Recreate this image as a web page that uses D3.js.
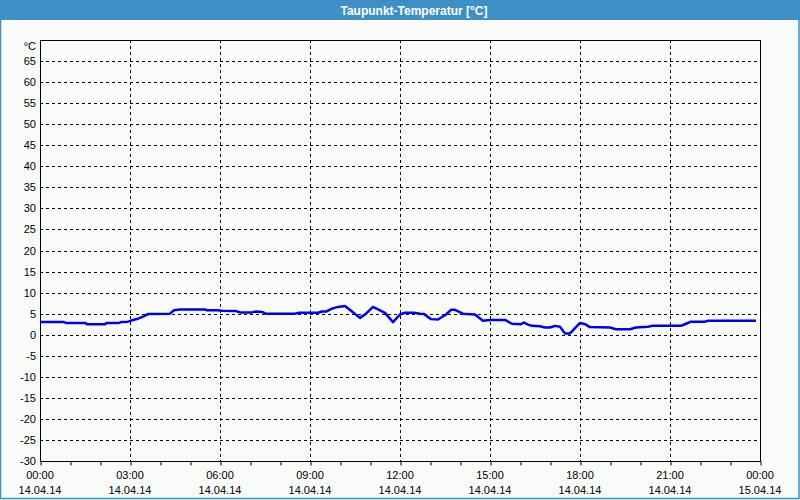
<!DOCTYPE html>
<html><head><meta charset="utf-8">
<script src="https://cdn.jsdelivr.net/npm/d3@7"></script>
<style>
html,body{margin:0;padding:0;background:#f9fbf8;}
svg{display:block;}
text{font-family:"Liberation Sans",Arial,sans-serif;}
</style></head>
<body>
<svg id="c" width="800" height="500"></svg>
<script>
const title = "Taupunkt-Temperatur [°C]";
const unitLabel = "°C";
const times = ["00:00","00:48","00:52","01:30","01:34","02:10","02:14","02:38","02:42","02:56","03:06","03:16","03:26","03:36","04:20","04:28","04:40","05:30","05:34","05:56","06:04","06:32","06:40","07:04","07:12","07:24","07:32","08:30","08:38","09:16","09:24","09:32","09:44","09:56","10:10","10:24","10:40","10:52","11:06","11:20","11:30","11:46","12:00","12:10","12:28","12:40","12:48","13:02","13:16","13:32","13:42","13:50","14:06","14:30","14:46","15:00","15:30","15:44","16:02","16:08","16:16","16:24","16:40","16:50","17:00","17:10","17:20","17:30","17:40","18:00","18:10","18:20","19:00","19:12","19:40","19:52","20:16","20:24","21:22","21:32","21:42","22:10","22:16","23:52"];
const values = [3.0,3.0,2.8,2.8,2.5,2.5,2.8,2.8,3.0,3.1,3.5,3.8,4.3,4.9,5.0,5.8,6.0,6.0,5.8,5.8,5.7,5.6,5.3,5.3,5.5,5.4,5.0,5.0,5.2,5.2,5.5,5.5,6.2,6.6,6.8,5.5,4.0,5.0,6.6,5.8,5.2,3.0,4.8,5.2,5.2,5.0,4.9,3.7,3.6,4.8,5.9,5.9,5.0,4.8,3.3,3.5,3.5,2.6,2.5,2.9,2.4,2.1,2.0,1.7,1.7,2.1,1.9,0.3,0.3,2.8,2.5,1.8,1.7,1.3,1.3,1.7,1.9,2.1,2.1,2.6,3.1,3.1,3.3,3.3];
const yTicks = [-30,-25,-20,-15,-10,-5,0,5,10,15,20,25,30,35,40,45,50,55,60,65];
const xTickTimes = ["2014-04-14T00:00","2014-04-14T03:00","2014-04-14T06:00","2014-04-14T09:00","2014-04-14T12:00","2014-04-14T15:00","2014-04-14T18:00","2014-04-14T21:00","2014-04-15T00:00"];
const day = "2014-04-14";

const svg = d3.select("#c");
const W = 800, H = 500;
const L = 40, R = 760, T = 40, B = 461;
const parse = d3.timeParse("%Y-%m-%dT%H:%M");
const t0 = parse(day + "T00:00"), t1 = parse("2014-04-15T00:00");
const x = d3.scaleTime().domain([t0, t1]).range([L, R]);
const y = d3.scaleLinear().domain([-30, 70]).range([B, T]);

// background
svg.append("rect").attr("x",0).attr("y",0).attr("width",W).attr("height",H).attr("fill","#f9fbf8");
// title bar
svg.append("rect").attr("x",0).attr("y",0).attr("width",W).attr("height",20).attr("fill","#3d8fc6");
svg.append("text").attr("x",414).attr("y",14.5).attr("text-anchor","middle")
  .attr("fill","#fff").attr("font-size","12px").attr("font-weight","bold").text(title);
// outer border
svg.append("rect").attr("x",0.5).attr("y",0).attr("width",W-1.5).attr("height",H-1.5)
  .attr("fill","none").attr("stroke","#3d8fc6").attr("stroke-width",1.5);

// grid
const g = svg.append("g");
g.selectAll(".hg").data(yTicks.filter(v=>v>-30)).enter().append("line")
  .attr("x1",L).attr("x2",R).attr("y1",d=>Math.round(y(d))+0.5).attr("y2",d=>Math.round(y(d))+0.5)
  .attr("stroke","#000").attr("stroke-width",1).attr("stroke-dasharray","3,3");
const xt = xTickTimes.map(parse);
g.selectAll(".vg").data(xt.slice(1,-1)).enter().append("line")
  .attr("x1",d=>Math.round(x(d))+0.5).attr("x2",d=>Math.round(x(d))+0.5).attr("y1",T).attr("y2",B)
  .attr("stroke","#000").attr("stroke-width",1).attr("stroke-dasharray","3,3");

// frame
svg.append("rect").attr("x",L+0.5).attr("y",T+0.5).attr("width",R-L).attr("height",B-T)
  .attr("fill","none").attr("stroke","#000").attr("stroke-width",1);

// x axis ticks (hourly)
const xAxis = d3.axisBottom(x).ticks(d3.timeHour.every(1)).tickSize(4).tickFormat("");
const xa = svg.append("g").attr("transform",`translate(0.5,${B+0.5})`).call(xAxis);
xa.select(".domain").remove();
xa.selectAll("line").attr("stroke","#000");

// x labels
const fmtT = d3.timeFormat("%H:%M"), fmtD = d3.timeFormat("%d.%m.%y");
const xl = svg.append("g");
xl.selectAll(".t1").data(xt).enter().append("text")
  .attr("x",d=>x(d)).attr("y",479).attr("text-anchor","middle").attr("font-size","11px").attr("fill","#000")
  .text(d=>fmtT(d));
xl.selectAll(".t2").data(xt).enter().append("text")
  .attr("x",d=>x(d)).attr("y",494).attr("text-anchor","middle").attr("font-size","11px").attr("fill","#000")
  .text(d=>fmtD(d));

// y labels
const yl = svg.append("g");
yl.selectAll("text").data(yTicks).enter().append("text")
  .attr("x",36).attr("y",d=>y(d)+4).attr("text-anchor","end").attr("font-size","11px").attr("fill","#000")
  .text(d=>d);
yl.append("text").attr("x",36).attr("y",50).attr("text-anchor","end").attr("font-size","11px").attr("fill","#000").text(unitLabel);

// data line
const data = times.map((t,i)=>({t:parse(day+"T"+t), v:values[i]}));
const line = d3.line().x(d=>x(d.t)).y(d=>y(d.v));
svg.append("path").datum(data).attr("d",line).attr("fill","none")
  .attr("stroke","#0000ee").attr("stroke-width",2.5).attr("stroke-linejoin","round");
</script>
</body></html>
